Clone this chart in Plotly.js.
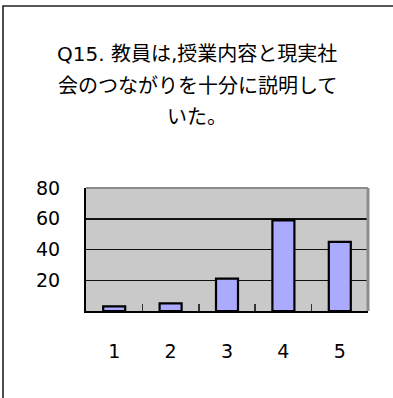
<!DOCTYPE html>
<html>
<head>
<meta charset="utf-8">
<script src="https://cdn.plot.ly/plotly-3.0.1.min.js"></script>
<style>
html,body{margin:0;padding:0;background:#fff;}
#chart{width:393px;height:398px;}
</style>
</head>
<body>
<div id="chart"></div>
<script>
const categories = ['1', '2', '3', '4', '5'];
const values = [3, 5, 21, 59, 45];
const yTicks = [20, 40, 60, 80];
const titleLines = ['Q15. 教員は,授業内容と現実社', '会のつながりを十分に説明して', 'いた。'];

const W = 393, H = 398;
const L = 86, R = 25, T = 188, B = 87;
const pw = W - L - R, ph = H - T - B;
const px = x => (x - L) / pw;
const py = y => (H - B - y) / ph;

const FONT = '"Noto Sans CJK JP", "Noto Sans", sans-serif';
const TICKFONT = '"DejaVu Sans", sans-serif';

const trace = {
  type: 'bar',
  x: categories,
  y: values,
  width: 0.39,
  marker: { color: '#aaaaff', line: { color: '#000000', width: 2.2 } },
  hoverinfo: 'none'
};

const latinWrap = s => s.replace(/([A-Za-z0-9., ]+)/g, '<span style="font-family:\'DejaVu Sans\'">$1</span>');

const titleY = [52, 84, 115];
const annotations = titleLines.map((t, i) => ({
  text: latinWrap(t),
  xref: 'paper', yref: 'paper',
  x: px(197), y: py(titleY[i]),
  xanchor: 'center', yanchor: 'middle',
  showarrow: false,
  font: { family: FONT, size: 20, color: '#000000' }
}));

const layout = {
  width: W, height: H,
  margin: { l: L, r: R, t: T, b: B, pad: 0 },
  paper_bgcolor: '#ffffff',
  plot_bgcolor: '#c9c9c9',
  showlegend: false,
  font: { family: FONT, size: 19, color: '#000000' },
  xaxis: {
    type: 'category',
    categoryorder: 'array',
    categoryarray: categories,
    range: [-0.5, 4.5],
    showgrid: false,
    zeroline: false,
    showline: true,
    linecolor: '#000000',
    linewidth: 2,
    ticks: 'inside',
    tickson: 'boundaries',
    ticklen: 7,
    tickwidth: 1.5,
    tickcolor: '#333333',
    ticklabelstandoff: 22,
    tickfont: { family: TICKFONT, size: 19, color: '#000000' },
    fixedrange: true
  },
  yaxis: {
    range: [0, 80],
    tickvals: yTicks,
    ticktext: yTicks.map(String),
    showgrid: true,
    gridcolor: '#111111',
    gridwidth: 1.5,
    zeroline: false,
    showline: true,
    linecolor: '#000000',
    linewidth: 2,
    ticks: 'inside',
    ticklen: 6,
    tickwidth: 1.5,
    tickcolor: '#111111',
    ticklabelstandoff: 20,
    tickfont: { family: TICKFONT, size: 19, color: '#000000' },
    fixedrange: true
  },
  shapes: [
    {
      type: 'line', xref: 'paper', yref: 'paper',
      x0: 0, x1: 1, y0: 1, y1: 1,
      line: { color: '#8c8c8c', width: 2 }, layer: 'above'
    },
    {
      type: 'line', xref: 'paper', yref: 'paper',
      x0: 1, x1: 1, y0: 0, y1: 1,
      line: { color: '#8c8c8c', width: 3 }, layer: 'above'
    },
    {
      type: 'rect', xref: 'paper', yref: 'paper',
      x0: px(3), x1: px(420), y0: py(6), y1: py(430),
      line: { color: '#222222', width: 1.6 }, fillcolor: 'rgba(0,0,0,0)', layer: 'above'
    }
  ],
  annotations: annotations
};

Plotly.newPlot('chart', [trace], layout, { staticPlot: true, displayModeBar: false });
</script>
</body>
</html>
